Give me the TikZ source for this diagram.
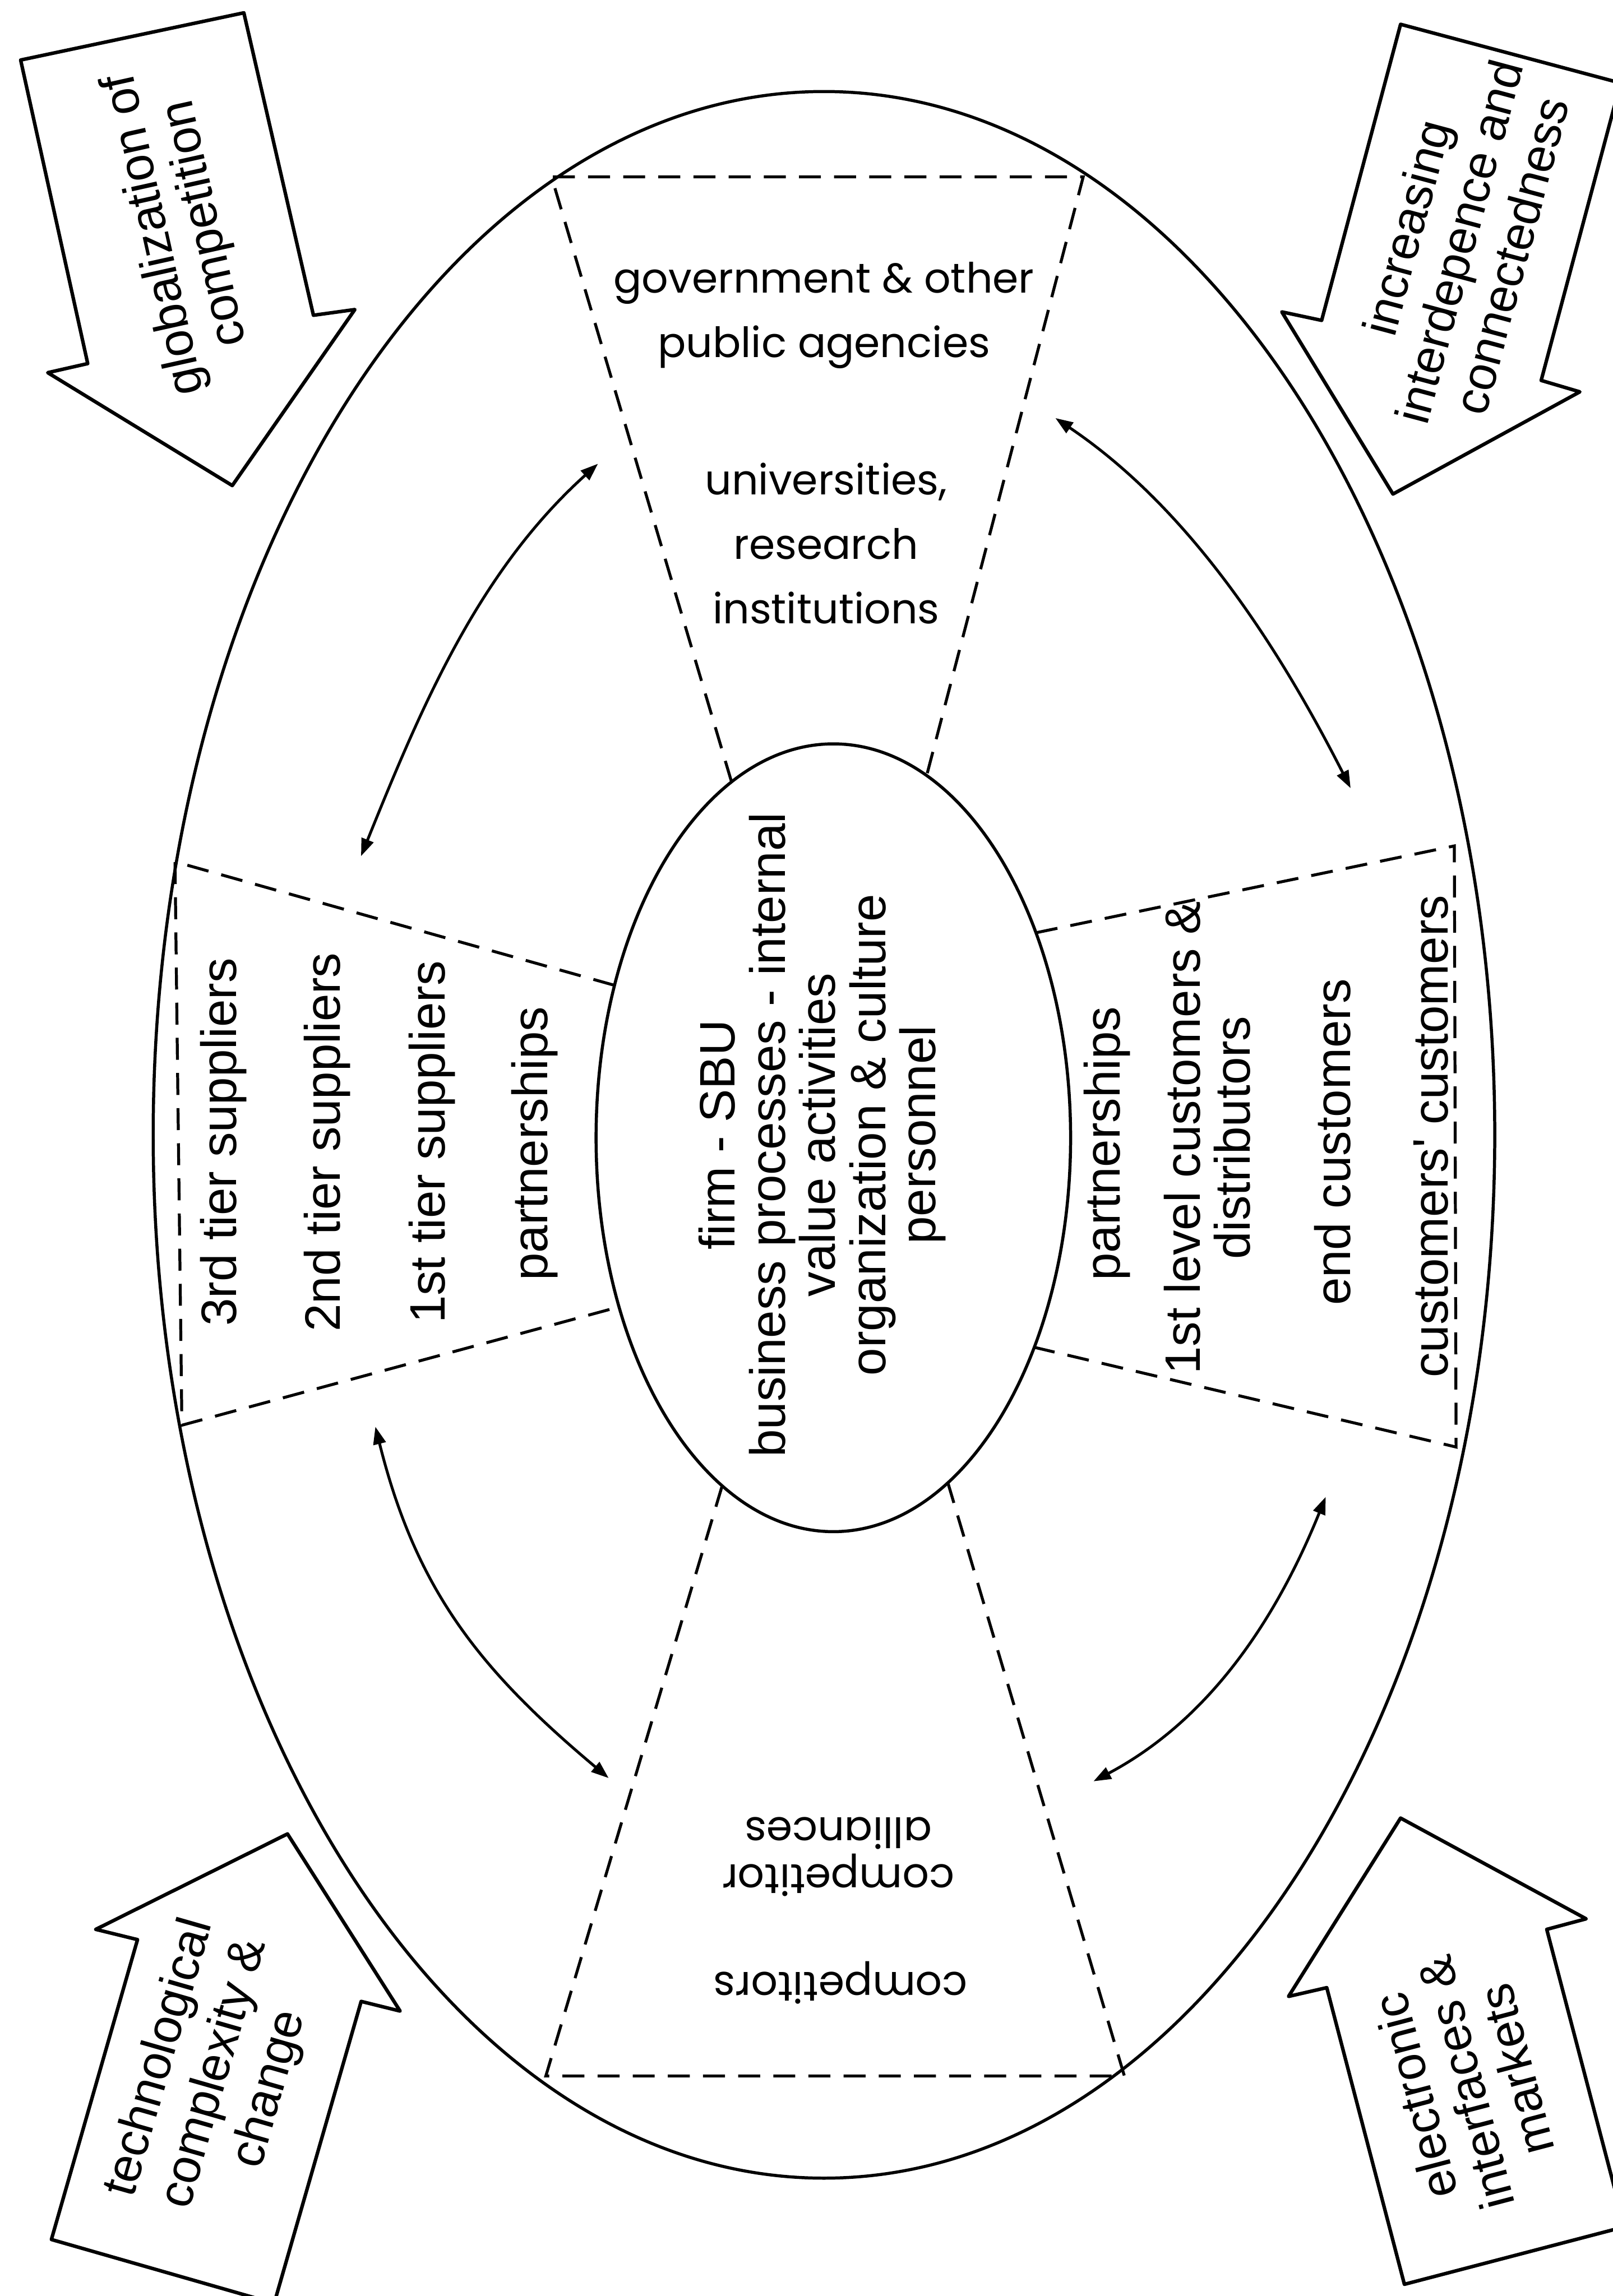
\documentclass[tikz,border=0pt]{standalone}
\usepackage{fontspec}
\setmainfont{Liberation Sans}
\newfontfamily\geofont{Poppins}
\usetikzlibrary{arrows.meta,shapes.geometric}

\tikzset{
  ring/.style={draw, ellipse, line width=2.1pt, inner sep=0pt},
  sector/.style={line width=2pt, dash pattern=on 15pt off 9pt},
  blockarrow/.style={draw, line width=2.4pt, line join=round, fill=white},
  link/.style={line width=1.9pt, {Triangle[length=12pt,width=8.5pt]}-{Triangle[length=12pt,width=8.5pt]}},
  sidetext/.style={font=\fontsize{34}{34.3}\selectfont, inner sep=0pt, align=center, rotate=90},
  geotext/.style={font=\geofont\fontsize{28.5}{44}\selectfont, inner sep=0pt, align=center},
  forcetext/.style={font=\fontsize{33.5}{36}\selectfont, inner sep=0pt, align=center},
}

\begin{document}
\begin{tikzpicture}[x=1pt,y=-1pt]
\useasboundingbox (0,0) rectangle (1101,1568);
\fill[white] (0,0) rectangle (1101,1568);

% environment and firm
\node[ring, minimum width=916pt, minimum height=1425pt] (field) at (562.6,775) {};
\node[ring, minimum width=324pt, minimum height=538pt] (firm) at (569,777) {};

% dashed sectors between firm and environment
\draw[sector] (499.5,534) -- (376.6,120.8) -- (739.6,120.8) -- (632.7,529.7);
\draw[sector] (419.6,672.9) -- (119.5,588.5) -- (124.2,973.3) -- (422.7,892.5);
\draw[sector] (707.3,637) -- (993,577.7) -- (994.2,988.2) -- (706.2,920.1);
\draw[sector] (493.1,1014.6) -- (372.7,1417.7) -- (767.7,1417.7) -- (647.2,1012.6);

% firm
\node[sidetext] (firmtext) at (561.5,775)
  {firm - SBU\\business processes - internal\\value activities\\organization \& culture\\personnel};

% suppliers
\node[sidetext] (sup3) at (152.5,780) {3rd tier suppliers};
\node[sidetext] (sup2) at (223.5,780) {2nd tier suppliers};
\node[sidetext] (sup1) at (295,780) {1st tier suppliers};
\node[sidetext] (suppart) at (365,781) {partnerships};

% customers
\node[sidetext] (cuspart) at (756,781) {partnerships};
\node[sidetext] (cus1) at (824.3,777) {1st level customers \&\\distributors};
\node[sidetext] (cusend) at (910,780) {end customers};
\node[sidetext] (cuscus) at (977,776) {customers\textquotesingle\ customers};

% public sector
\node[geotext] (gov) at (562.6,215.4) {government \& other\\public agencies};
\node[geotext] (uni) at (564,371.2) {universities,\\research\\institutions};

% competitors
\node[geotext, rotate=180, font=\geofont\fontsize{28.5}{32}\selectfont] (compall) at (572.4,1268) {competitor\\alliances};
\node[geotext, rotate=180] (comp) at (574,1354) {competitors};

% interaction loops between the sectors
\coordinate (ulA) at (408.3,316.7);
\coordinate (ulB) at (246.5,584.7);
\coordinate (llA) at (256.3,974.3);
\coordinate (llB) at (415.6,1214.3);
\coordinate (urA) at (720.6,285.5);
\coordinate (urB) at (922.2,538.3);
\coordinate (lrA) at (905.2,1022.2);
\coordinate (lrB) at (746.6,1216.5);
\draw[link] (ulA) .. controls (326.6,390.3) and (287.7,482.7) .. (ulB);
\draw[link] (llA) .. controls (284.1,1085.9) and (327.5,1140.4) .. (llB);
\draw[link] (urA) .. controls (811.8,347) and (872.3,440.3) .. (urB);
\draw[link] (lrA) .. controls (871.5,1105.6) and (826.1,1174.3) .. (lrB);

% external forces
\draw[blockarrow] (14.1,41.0) -- (166.5,8.75) -- (214,215.3) -- (242.3,211.4)
  -- (158.6,331.6) -- (32.6,254.5) -- (59.9,248.3) -- cycle;
\node[forcetext, rotate=102.5, font=\fontsize{33.5}{35.4}\selectfont] (glob) at (123.5,156.2)
  {globalization of\\competition};

\draw[blockarrow] (956.3,16.6) -- (1106.5,56.7) -- (1052.3,259.8) -- (1078.7,267.6)
  -- (951.1,337.4) -- (875.2,213) -- (902.4,218.8) -- cycle;
\node[forcetext, rotate=75, font=\fontsize{33}{37}\selectfont] (inter) at (996,165)
  {increasing\\interdepence and\\connectedness};

\draw[blockarrow] (196.3,1252.4) -- (273.2,1373.4) -- (246.6,1366.8) -- (187.2,1573)
  -- (35.1,1529.4) -- (93.9,1324.6) -- (65.4,1317.6) -- cycle;
\node[forcetext, rotate=74, font=\fontsize{33.5}{39}\selectfont] (tech) at (147,1416)
  {technological\\complexity \&\\change};

\draw[blockarrow] (956.3,1241.6) -- (1083,1310.4) -- (1056.1,1317.6) -- (1109.3,1520.7)
  -- (958.9,1560) -- (905.9,1357.4) -- (879.8,1363.4) -- cycle;
\node[forcetext, rotate=104.7, font=\fontsize{33.5}{35.5}\selectfont] (elec) at (1000.5,1422.4)
  {electronic\\interfaces \&\\markets};
\end{tikzpicture}
\end{document}
